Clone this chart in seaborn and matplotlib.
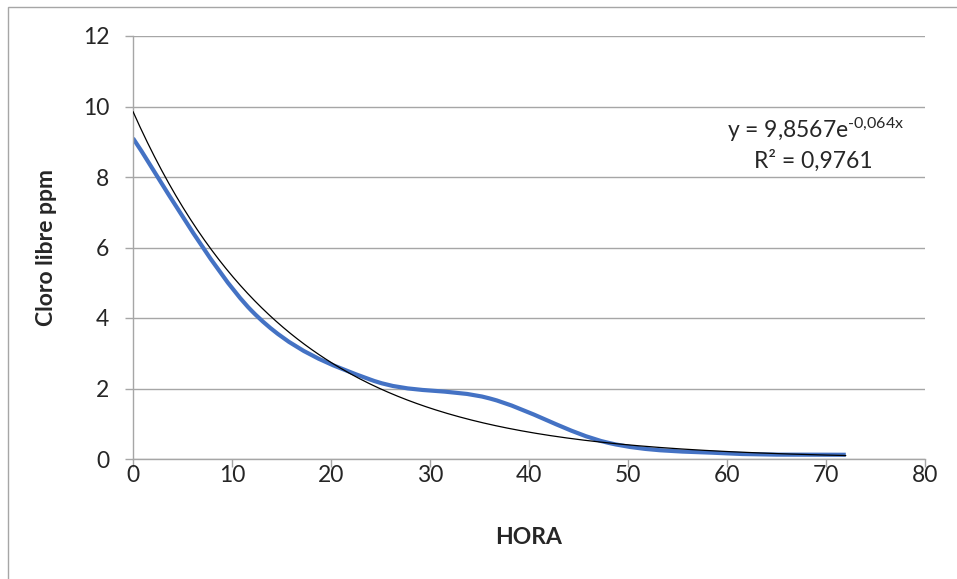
import numpy as np
import pandas as pd
import matplotlib
matplotlib.use("Agg")
import matplotlib.pyplot as plt
import matplotlib.patches as mpatches
from matplotlib.path import Path
import seaborn as sns

# data (hours vs free chlorine)
hora = [0, 12, 24, 36, 48, 60, 72]
cloro = [9.1, 4.2, 2.25, 1.72, 0.46, 0.16, 0.12]

# exponential trendline shown on the chart
coef_a = 9.8567
coef_b = -0.064
x_ticks = [0, 10, 20, 30, 40, 50, 60, 70, 80]
y_ticks = [0, 2, 4, 6, 8, 10, 12]

sns.set_style("white")
plt.rcParams["font.family"] = ["Lato", "DejaVu Sans"]
plt.rcParams["mathtext.default"] = "regular"

fs = 16.5
fig = plt.figure(figsize=(9.57, 5.79), dpi=100)
ax = fig.add_axes([133 / 957, 1 - 459 / 579, 792 / 957, 423 / 579])

grid_col = "#a6a6a6"

# trendline
xt = np.linspace(0, 72, 300)
trend = pd.DataFrame({"x": xt, "y": coef_a * np.exp(coef_b * xt)})
sns.lineplot(data=trend, x="x", y="y", color="black", linewidth=0.9, ax=ax, zorder=3)

# excel-style smoothed line (catmull-rom bezier through the points)
pts = np.column_stack([hora, cloro]).astype(float)
verts = [tuple(pts[0])]
codes = [Path.MOVETO]
n = len(pts)
for i in range(n - 1):
    p_prev = pts[i - 1] if i > 0 else pts[i]
    p_next2 = pts[i + 2] if i + 2 < n else pts[i + 1]
    c1 = pts[i] + (pts[i + 1] - p_prev) / 6
    c2 = pts[i + 1] - (p_next2 - pts[i]) / 6
    verts += [tuple(c1), tuple(c2), tuple(pts[i + 1])]
    codes += [Path.CURVE4] * 3
ax.add_patch(mpatches.PathPatch(Path(verts, codes), fill=False, edgecolor="#4472C4",
                                linewidth=3, capstyle="butt", zorder=2))

ax.set_xlim(0, 80)
ax.set_ylim(0, 12)
ax.set_xticks(x_ticks)
ax.set_yticks(y_ticks)
ax.tick_params(axis="x", direction="out", length=6, width=1, color=grid_col,
               labelsize=fs, pad=-2, bottom=True)
ax.tick_params(axis="y", direction="out", length=6, width=1, color=grid_col,
               labelsize=fs, pad=11, left=True)
ax.grid(axis="y", color=grid_col, linewidth=1)
ax.set_axisbelow(True)
for s in ["top", "right"]:
    ax.spines[s].set_visible(False)
for s in ["left", "bottom"]:
    ax.spines[s].set_color(grid_col)
    ax.spines[s].set_linewidth(1)

ax.set_xlabel("HORA", fontsize=fs, fontweight="bold")
ax.set_ylabel("Cloro libre ppm", fontsize=fs, fontweight="bold")
ax.xaxis.label.set_va("center")
ax.xaxis.set_label_coords(0.5, -(537 - 459) / 423)
ax.yaxis.label.set_va("center")
ax.yaxis.set_label_coords(-(133 - 47) / 792, 0.5)

ax.text(68.9, 9.35, "y = 9,8567e$^{\u2010 0{,}064x}$", fontsize=fs, ha="center", va="center")
ax.text(68.7, 8.47, "R² = 0,9761", fontsize=fs, ha="center", va="center")

# chart area frame
fig.patches.append(mpatches.Rectangle((8 / 957, -0.05), 1.2, 1 - 7 / 579 + 0.05,
                                      transform=fig.transFigure, fill=False,
                                      edgecolor=grid_col, linewidth=1))

fig.savefig("out.png", dpi=100)
